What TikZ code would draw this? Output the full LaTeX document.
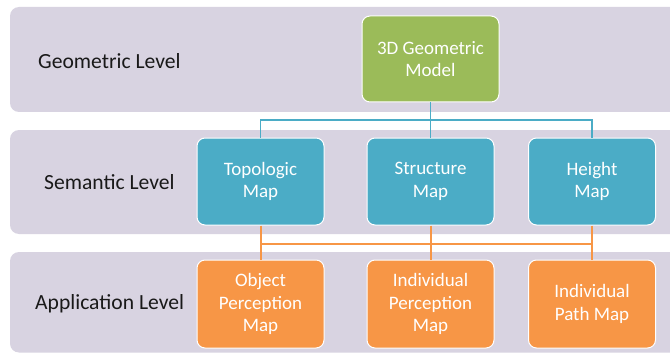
\documentclass[tikz,border=0pt]{standalone}
\usepackage{fontspec}
\setmainfont{Carlito}
\definecolor{band}{RGB}{216,211,225}
\definecolor{gfill}{RGB}{155,187,89}
\definecolor{bfill}{RGB}{75,172,198}
\definecolor{ofill}{RGB}{247,150,70}
\definecolor{labtxt}{RGB}{25,25,25}
\tikzset{
  bandbox/.style={fill=band, rounded corners=9pt, draw=none},
  levlabel/.style={anchor=west, text=labtxt, font=\fontsize{21.6}{26}\selectfont, inner sep=0pt},
  boxbase/.style={rectangle, rounded corners=8pt, draw=white, line width=1pt, text=white,
    align=center, font=\fontsize{19}{22.8}\selectfont, inner sep=0pt},
  gbox/.style={boxbase, fill=gfill, minimum width=137pt, minimum height=86pt},
  bbox/.style={boxbase, fill=bfill, minimum width=127pt, minimum height=87pt},
  obox/.style={boxbase, fill=ofill, minimum width=127pt, minimum height=88pt},
  bline/.style={draw=bfill, line width=1.6pt},
  oline/.style={draw=ofill, line width=2pt},
}
\begin{document}
\begin{tikzpicture}[x=1pt,y=-1pt]
\useasboundingbox (0,0) rectangle (670,353);
\clip (0,0) rectangle (670,353);
\fill[white] (0,0) rectangle (670,353);
% bands
\path[bandbox] (10,7) rectangle (690,112);
\path[bandbox] (10,130) rectangle (690,234);
\path[bandbox] (10,252) rectangle (690,352.5);
% level labels
\node[levlabel] (lg) at (38,61) {Geometric Level};
\node[levlabel] (ls) at (44,182) {Semantic Level};
\node[levlabel] (la) at (35,304) {Application Level};
% junction coordinates
\coordinate (bj) at (430.5,120);
\coordinate (oj) at (430.5,244);
% boxes
\node[gbox] (geo) at (430.5,59) {3D Geometric\\Model};
\node[bbox] (topo) at (260.5,181.5) {Topologic\\Map};
\node[bbox] (stru) at (430.5,181.5) {Structure\\Map};
\node[bbox] (heig) at (592,181.5) {Height\\Map};
\node[obox] (objp) at (260.5,304) {Object\\Perception\\Map};
\node[obox] (indp) at (430.5,304) {Individual\\Perception\\Map};
\node[obox] (path) at (592,304) {Individual\\Path Map};
% blue connectors
\draw[bline] (geo.south) -- (stru.north);
\draw[bline] (topo.north) -- (topo.north |- bj) -- (heig.north |- bj) -- (heig.north);
% orange connectors
\draw[oline] (topo.south) -- (objp.north);
\draw[oline] (stru.south) -- (indp.north);
\draw[oline] (heig.south) -- (path.north);
\draw[oline] (topo.south |- oj) -- (heig.south |- oj);
\end{tikzpicture}
\end{document}
